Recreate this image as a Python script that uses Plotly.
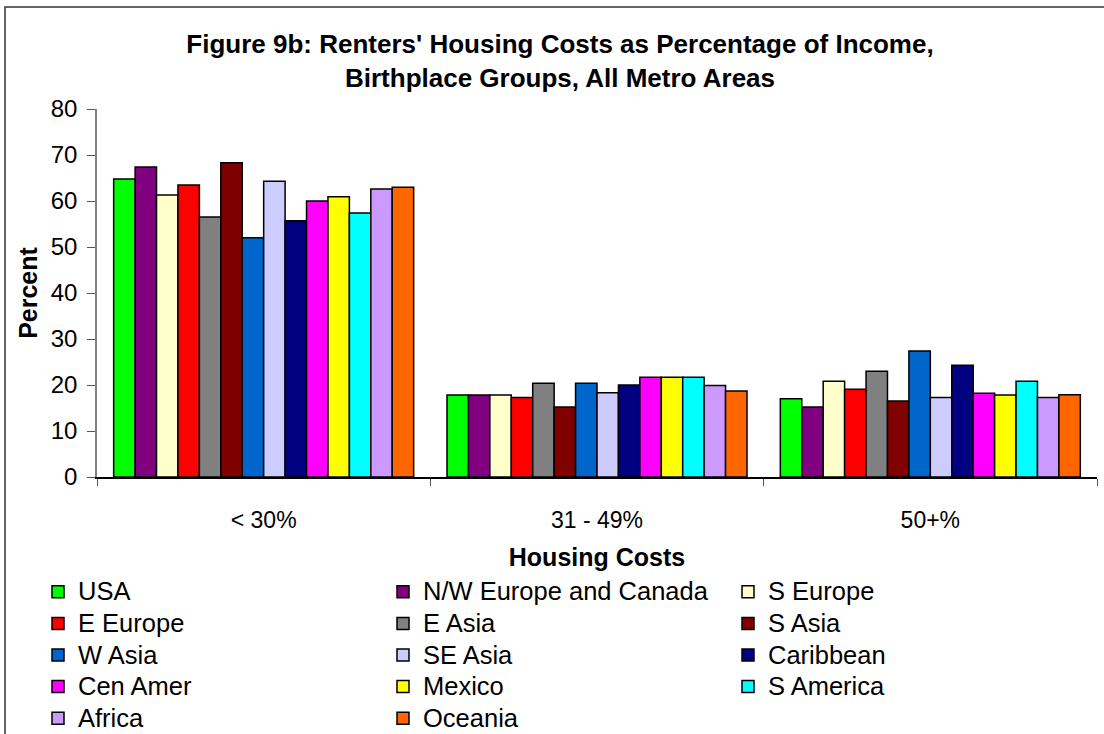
import plotly.graph_objects as go

# Категории по оси X и группы по месту рождения
categories = ["< 30%", "31 - 49%", "50+%"]

groups = ["USA", "N/W Europe and Canada", "S Europe", "E Europe", "E Asia",
          "S Asia", "W Asia", "SE Asia", "Caribbean", "Cen Amer", "Mexico",
          "S America", "Africa", "Oceania"]

colors = ["#00ff00", "#800080", "#ffffcc", "#ff0000", "#808080", "#800000",
          "#0066cc", "#ccccff", "#000080", "#ff00ff", "#ffff00", "#00ffff",
          "#cc99ff", "#ff6600"]

# Значения (проценты) для каждой группы: [< 30%, 31-49%, 50+%]
usa = [64.8, 17.8, 17.0]
nw_europe = [67.4, 17.8, 15.2]
s_europe = [61.3, 17.8, 20.8]
e_europe = [63.5, 17.3, 19.1]
e_asia = [56.5, 20.4, 23.0]
s_asia = [68.3, 15.2, 16.5]
w_asia = [52.0, 20.4, 27.4]
se_asia = [64.3, 18.3, 17.3]
caribbean = [55.7, 20.0, 24.3]
cen_amer = [60.0, 21.7, 18.2]
mexico = [60.9, 21.7, 17.8]
s_america = [57.4, 21.7, 20.8]
africa = [62.6, 19.9, 17.3]
oceania = [63.0, 18.7, 17.9]

values = [usa, nw_europe, s_europe, e_europe, e_asia, s_asia, w_asia,
          se_asia, caribbean, cen_amer, mexico, s_america, africa, oceania]

FONT = "Liberation Sans, Arial, sans-serif"
W, H = 1104, 734
L, R, T, B = 97, 7, 109, 257
PW, PH = W - L - R, H - T - B

fig = go.Figure()
for name, col, vals in zip(groups, colors, values):
    # крупный текст легенды при компактной высоте строк
    fig.add_trace(go.Bar(x=categories, y=vals,
                         name=f'<span style="font-size:25.5px">{name}</span>',
                         marker=dict(color=col, line=dict(color="black", width=1.5))))

fig.update_layout(
    width=W, height=H,
    margin=dict(l=L, r=R, t=T, b=B, autoexpand=False),
    paper_bgcolor="white", plot_bgcolor="white",
    font=dict(family=FONT, size=24, color="black"),
    barmode="group", bargap=0.1, bargroupgap=0,
    title=dict(text="<b>Figure 9b: Renters' Housing Costs as Percentage of Income,<br>"
                    "Birthplace Groups, All Metro Areas</b>",
               x=560 / W, xanchor="center", xref="container",
               y=1 - 53 / H, yanchor="top", yref="container",
               font=dict(size=26, family=FONT)),
    legend=dict(orientation="h", x=(38 - L) / PW, y=(477 - 571) / PH,
                xanchor="left", yanchor="top",
                entrywidth=300, entrywidthmode="pixels", traceorder="normal",
                font=dict(size=22, family=FONT)),
)

fig.update_xaxes(showline=True, linecolor="black", linewidth=1.5,
                 ticks="outside", tickson="boundaries", ticklen=7, tickcolor="#555",
                 ticklabelstandoff=22,
                 title=dict(text="<b>Housing Costs</b>", font=dict(size=25), standoff=16),
                 tickfont=dict(size=23))
fig.update_yaxes(range=[0, 80], dtick=10, showline=True, linecolor="#808080", linewidth=1.5,
                 ticks="outside", ticklen=8, tickcolor="#555", showgrid=False,
                 zeroline=False, ticklabelstandoff=5,
                 title=dict(text="<b>Percent</b>", font=dict(size=25), standoff=6),
                 tickfont=dict(size=24))

# рамка области диаграммы
fig.add_shape(type="rect", xref="paper", yref="paper",
              x0=(5 - L) / PW, x1=1.2, y0=-1.0, y1=(477 - 7) / PH,
              line=dict(color="#333", width=1.5), layer="below")

fig.write_html("out.html", config={"displayModeBar": False},
               post_script="document.body.style.margin='0';")
